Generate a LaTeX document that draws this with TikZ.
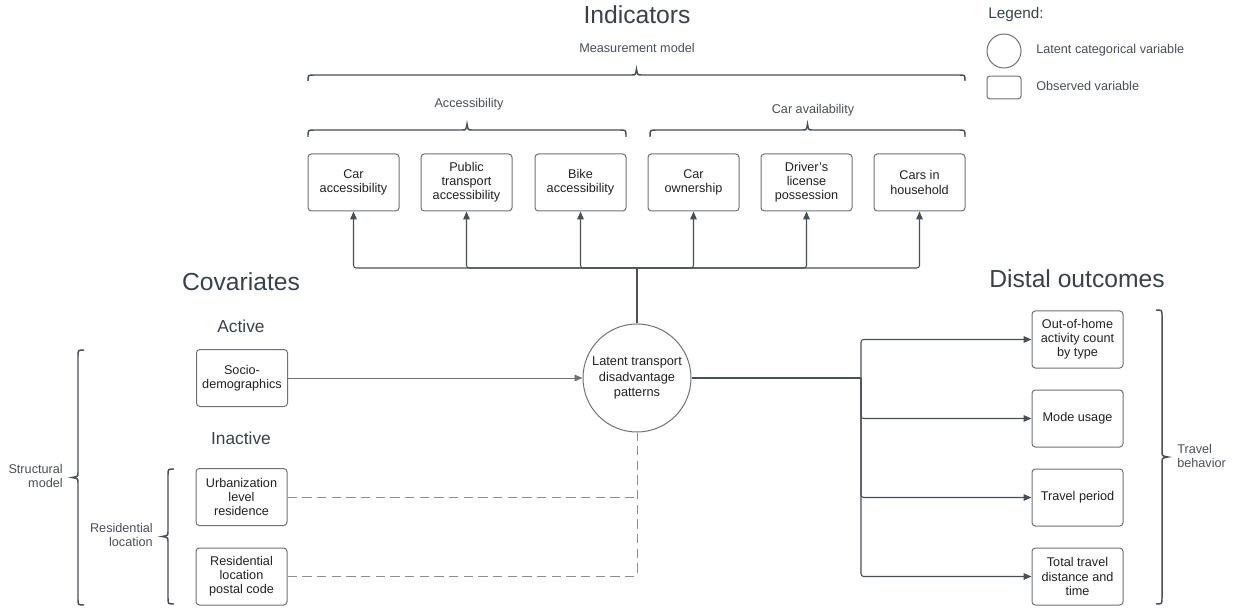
\documentclass[tikz,border=0pt]{standalone}
\usepackage{fontspec}
\setmainfont{Liberation Sans}
\usetikzlibrary{arrows.meta}

\definecolor{linecol}{HTML}{4A4F57}
\definecolor{boxline}{HTML}{6E7278}
\definecolor{dashcol}{HTML}{8A8E94}
\definecolor{headtext}{HTML}{3A414B}
\definecolor{bodytext}{HTML}{222222}
\definecolor{labeltext}{HTML}{4A4F57}

% horizontal curly bracket: x1, x2, y of the ends, y of the bar, y of the tip
\newcommand{\HBr}[5]{%
  \draw[bracket] (#1,#3) .. controls (#1,#4) .. (#1+6,#4)
    -- ({(#1+#2)/2-5},#4) .. controls ({(#1+#2)/2-1},#4) .. ({(#1+#2)/2},#5)
    .. controls ({(#1+#2)/2+1},#4) .. ({(#1+#2)/2+5},#4)
    -- (#2-6,#4) .. controls (#2,#4) .. (#2,#3);}
% vertical curly bracket: x of the bar, x of the ends, y1, y2, x of the tip
\newcommand{\VBr}[5]{%
  \draw[bracket] (#2,#3) .. controls (#1,#3) .. (#1,#3+6)
    -- (#1,{(#3+#4)/2-5}) .. controls (#1,{(#3+#4)/2-1}) .. (#5,{(#3+#4)/2})
    .. controls (#1,{(#3+#4)/2+1}) .. (#1,{(#3+#4)/2+5})
    -- (#1,#4-6) .. controls (#1,#4) .. (#2,#4);}

\tikzset{
  varbox/.style={draw=boxline, line width=0.75pt, rounded corners=2.5pt, fill=white,
    minimum width=68.25pt, minimum height=42.75pt, inner sep=1pt, align=center,
    text=bodytext, font=\fontsize{9.5}{10.6}\selectfont},
  latent/.style={draw=boxline, line width=0.75pt, circle, minimum size=81pt, inner sep=0pt,
    align=center, text=bodytext, font=\fontsize{9.6}{11.4}\selectfont},
  heading/.style={text=headtext, font=\fontsize{18.5}{22}\selectfont, inner sep=0pt},
  subheading/.style={text=headtext, font=\fontsize{13}{15}\selectfont, inner sep=0pt},
  grouplabel/.style={text=labeltext, font=\fontsize{9.5}{10.8}\selectfont, inner sep=0pt},
  bracket/.style={draw=linecol, line width=1.1pt},
  conn/.style={draw=linecol, line width=0.8pt, rounded corners=2pt},
  arr/.style={conn, -{Triangle[length=6pt,width=5pt]}},
  thinarr/.style={draw=boxline, line width=0.55pt, -{Triangle[length=6pt,width=5pt]}},
  dashline/.style={draw=dashcol, line width=0.7pt, dash pattern=on 7pt off 4pt, rounded corners=2pt},
}

\begin{document}
\begin{tikzpicture}[x=0.75pt, y=-0.75pt]
\useasboundingbox (0,0) rectangle (1234,609);

% ---------- headings ----------
\node[heading] (hInd) at (637,15) {Indicators};
\node[grouplabel] (hMeas) at (637,48) {Measurement model};
\node[heading] (hCov) at (241,282) {Covariates};
\node[subheading] (hAct) at (241,326) {Active};
\node[subheading] (hInact) at (241,438) {Inactive};
\node[heading] (hDist) at (1077,279) {Distal outcomes};

% ---------- brackets and group labels ----------
\HBr{308}{965}{81}{75}{69}
\node[grouplabel] (lAcc) at (469,104) {Accessibility};
\node[grouplabel] (lCar) at (813,110) {Car availability};
\HBr{308}{626}{137}{130}{124}
\HBr{650}{965}{137}{130}{124}

\VBr{78}{84}{350}{605}{72}
\node[grouplabel, align=right, anchor=east] (lStruct) at (63,476) {Structural\\model};
\VBr{168}{174}{469}{604}{162}
\node[grouplabel, align=right, anchor=east] (lRes) at (153,535) {Residential\\location};
\VBr{1162}{1156}{310}{604}{1168}
\node[grouplabel, align=left, anchor=west] (lTrav) at (1177,456) {Travel\\behavior};

% ---------- indicators ----------
\node[varbox] (i1) at (353.5,182.5) {Car\\accessibility};
\node[varbox] (i2) at (466.5,182.5) {Public\\transport\\accessibility};
\node[varbox] (i3) at (580.5,182.5) {Bike\\accessibility};
\node[varbox] (i4) at (693.5,182.5) {Car\\ownership};
\node[varbox] (i5) at (806.5,182.5) {Driver's\\license\\possession};
\node[varbox] (i6) at (919.5,182.5) {Cars in\\household};

% ---------- latent class ----------
\node[latent] (lat) at (637,378) {Latent transport\\disadvantage\\patterns};

% ---------- covariates ----------
\node[varbox] (socio) at (242,378) {Socio-\\demographics};
\node[varbox] (urb) at (241.5,497) {Urbanization\\level\\residence};
\node[varbox] (res) at (241.5,576.5) {Residential\\location\\postal code};

% ---------- distal outcomes ----------
\node[varbox] (o1) at (1077.5,339.5) {Out-of-home\\activity count\\by type};
\node[varbox] (o2) at (1077.5,418.5) {Mode usage};
\node[varbox] (o3) at (1077.5,497.5) {Travel period};
\node[varbox] (o4) at (1077.5,576.5) {Total travel\\distance and\\time};

% ---------- connectors ----------
\coordinate (thub) at (637,268);
\coordinate (rhub) at (861,378);

\draw[conn] (lat.north) -- (thub);
\foreach \n in {i1,i2,i3,i4,i5,i6}
  \draw[arr] (thub) -| (\n.south);

\draw[conn] (lat.east) -- (rhub);
\foreach \n in {o1,o2,o3,o4}
  \draw[arr] (rhub) |- (\n.west);

\draw[thinarr] (socio.east) -- (lat.west);

\draw[dashline] (res.east) -| (lat.south);
\draw[dashline] (urb.east) -- (urb.east -| lat.south);

% ---------- legend ----------
\node[text=headtext, font=\fontsize{11.5}{13}\selectfont, anchor=west, inner sep=0pt] (legT) at (988,15) {Legend:};
\node[draw=boxline, line width=0.75pt, circle, minimum size=25.5pt, inner sep=0pt] (legC) at (1004,51) {};
\node[draw=boxline, line width=0.75pt, rounded corners=2pt, minimum width=25.5pt, minimum height=17pt, inner sep=0pt] (legB) at (1004,87.5) {};
\node[grouplabel, anchor=west] (legCt) at (1036,50) {Latent categorical variable};
\node[grouplabel, anchor=west] (legBt) at (1036,86) {Observed variable};
\end{tikzpicture}
\end{document}
